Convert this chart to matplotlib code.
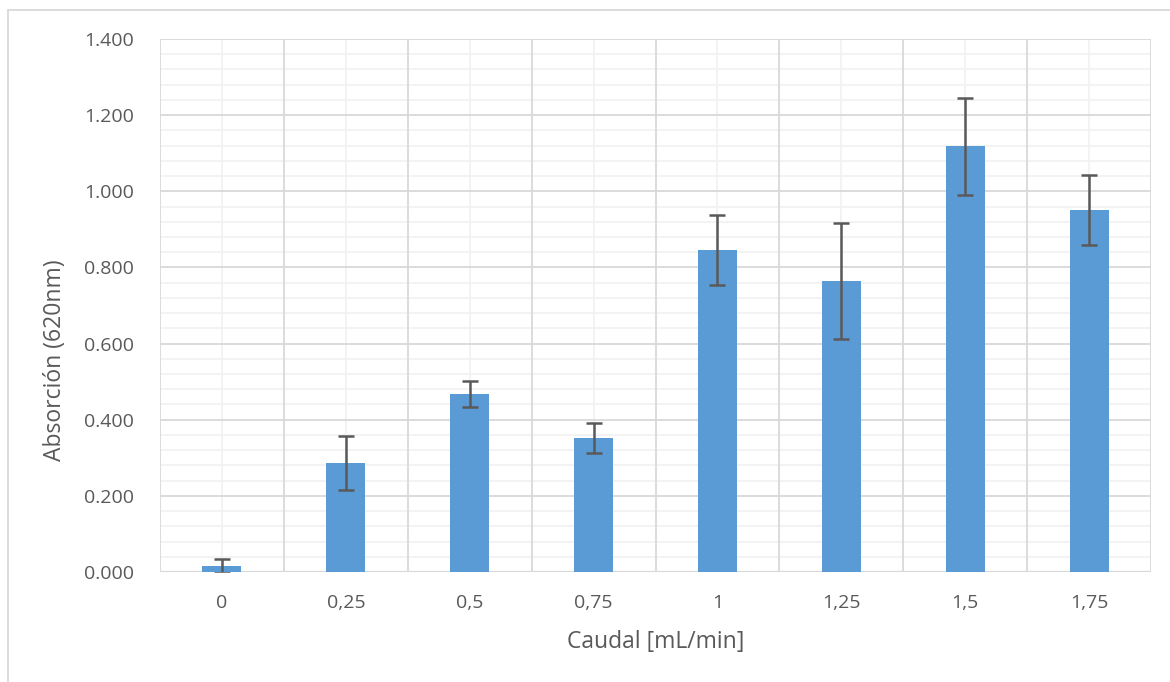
import matplotlib
matplotlib.use("Agg")
import matplotlib.pyplot as plt
from matplotlib.lines import Line2D
from matplotlib.ticker import MultipleLocator, FuncFormatter
import numpy as np

# Flow rate categories and measured absorbance (mean ± error)
categories = ["0", "0,25", "0,5", "0,75", "1", "1,25", "1,5", "1,75"]
absorbance = [0.016, 0.286, 0.468, 0.352, 0.846, 0.765, 1.118, 0.950]
errors = [0.018, 0.071, 0.034, 0.039, 0.093, 0.152, 0.128, 0.092]

plt.rcParams['font.family'] = ['Open Sans', 'DejaVu Sans']
text_color = "#595959"
bar_color = "#5B9BD5"
major_grid = "#D9D9D9"
minor_grid = "#F2F2F2"

W, H, DPI = 1170, 682, 100
fig = plt.figure(figsize=(W / DPI, H / DPI), dpi=DPI)
left, right, top, bottom = 160, 1151, 39, 572
ax = fig.add_axes([left / W, 1 - bottom / H, (right - left) / W, (bottom - top) / H])

x = np.arange(len(categories))
ax.bar(x, absorbance, width=0.315, color=bar_color, zorder=3,
       yerr=errors, error_kw=dict(ecolor="#595959", elinewidth=1.8, capsize=6, capthick=1.8, zorder=4))

ax.set_xlim(-0.5, len(categories) - 0.5)
ax.set_ylim(0, 1.4)

# y axis: labelled every 0.2, light gridlines every 0.04
ax.yaxis.set_major_locator(MultipleLocator(0.2))
ax.yaxis.set_major_formatter(FuncFormatter(lambda v, p: f"{v:.3f}"))

ax.set_xticks(x)
ax.set_xticklabels(categories)

ax.grid(False)
for yv in np.arange(0.04, 1.4001, 0.04):
    is_major = abs(yv / 0.2 - round(yv / 0.2)) < 1e-6
    ax.axhline(yv, color=major_grid if is_major else minor_grid,
               lw=1.3, zorder=1 if is_major else 0.5)
for xv in np.arange(-0.5, len(categories), 1.0):
    ax.axvline(xv, color=major_grid, lw=1.3, zorder=1)
for xv in x:
    ax.axvline(xv, color=minor_grid, lw=1.3, zorder=0.5)

for s in ax.spines.values():
    s.set_visible(False)
ax.axhline(0, color=major_grid, lw=1.6, zorder=2)

ax.tick_params(axis="both", which="both", length=0, colors=text_color, labelsize=14)
ax.tick_params(axis="y", pad=19)
ax.tick_params(axis="x", pad=16)

ax.set_xlabel("Caudal [mL/min]", fontsize=16.5, color=text_color)
ax.set_ylabel("Absorción (620nm)", fontsize=16.5, color=text_color)
ax.xaxis.set_label_coords(0.5, -(642 - bottom) / (bottom - top))
ax.xaxis.label.set_verticalalignment("center")
ax.yaxis.set_label_coords(-(left - 55) / (right - left), (bottom - 360) / (bottom - top))
ax.yaxis.label.set_verticalalignment("center")

# chart frame (top and left edges)
fig.add_artist(Line2D([8 / W, 1.0], [1 - 10 / H, 1 - 10 / H], color="#D9D9D9", lw=1.3))
fig.add_artist(Line2D([8 / W, 8 / W], [0, 1 - 10 / H], color="#D9D9D9", lw=1.3))

fig.savefig("out.png", dpi=DPI, facecolor="white")
